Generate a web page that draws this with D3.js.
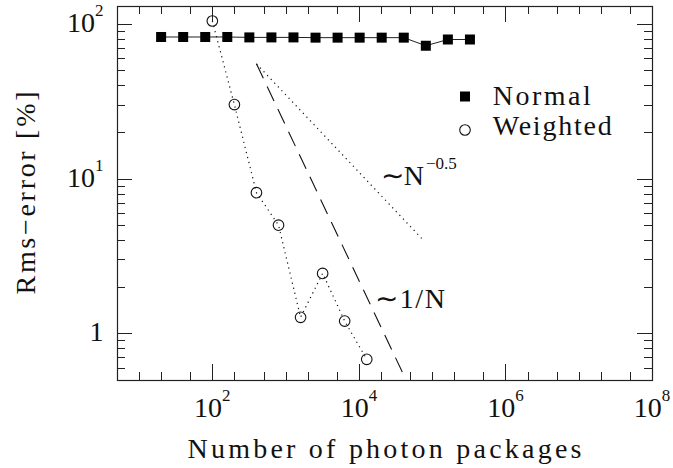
<!DOCTYPE html>
<html>
<head>
<meta charset="utf-8">
<script src="https://cdn.jsdelivr.net/npm/d3@7/dist/d3.min.js"></script>
<style>
  html, body { margin: 0; padding: 0; background: #fff; }
  svg { display: block; }
  text { font-family: "Liberation Serif", "Times New Roman", serif; fill: #111; }
</style>
</head>
<body>
<svg id="chart" width="673" height="468"></svg>
<script>
// ---- data ----
const normalN   = [20, 40, 80, 160, 320, 640, 1280, 2560, 5120, 10240, 20480, 40960, 81920, 163840, 327680];
const normalErr = [82, 82, 82, 82, 81.5, 81.5, 81.5, 81.2, 81.2, 81.2, 81.2, 81.2, 72, 79, 79];
const weightedN   = [100, 200, 400, 800, 1600, 3200, 6400, 12800];
const weightedErr = [104, 30, 8.1, 5.0, 1.27, 2.44, 1.2, 0.68];
const invN_N     = [400, 40000];
const invN_err   = [55, 0.55];
const invSqrt_N   = [400, 72000];
const invSqrt_err = [55, 4.1];
const xTickLabels = [{v: 1e2, base: "10", exp: "2"}, {v: 1e4, base: "10", exp: "4"}, {v: 1e6, base: "10", exp: "6"}, {v: 1e8, base: "10", exp: "8"}];
const yTickLabels = [{v: 1, base: "1", exp: ""}, {v: 10, base: "10", exp: "1"}, {v: 100, base: "10", exp: "2"}];
const legendLabels = ["Normal", "Weighted"];
const xTitle = "Number of photon packages";
const yTitle = "Rms\u2212error [%]";

// ---- layout ----
const L = 117, R = 652, T = 6, B = 380;
const svg = d3.select("#chart");
const x = d3.scaleLog().domain([5, 1e8]).range([L, R]);
const y = d3.scaleLog().domain([0.5, 130]).range([B, T]);

// ticks
const xMajor = [1e2, 1e4, 1e6, 1e8];
const xMinor = [];
for (let e = 0; e <= 7; e++) [1, 2, 5].forEach(m => {
  const v = m * Math.pow(10, e);
  if (v >= 5 && v <= 1e8 && !xMajor.includes(v)) xMinor.push(v);
});
const yMajor = [1, 10, 100];
const yMinor = [];
for (let e = -1; e <= 2; e++) for (let m = 1; m <= 9; m++) {
  const v = +(m * Math.pow(10, e)).toPrecision(6);
  if (v >= 0.5 && v <= 130 && !yMajor.includes(v)) yMinor.push(v);
}
const g = svg.append("g").attr("stroke", "#222").attr("stroke-width", 1).attr("shape-rendering", "crispEdges");
const xt = xMajor.map(v => ({v, len: 16})).concat(xMinor.map(v => ({v, len: 8})));
g.selectAll(".xb").data(xt).join("line")
  .attr("x1", d => Math.round(x(d.v)) + 0.5).attr("x2", d => Math.round(x(d.v)) + 0.5)
  .attr("y1", B).attr("y2", d => B - d.len);
g.selectAll(".xt").data(xt).join("line")
  .attr("x1", d => Math.round(x(d.v)) + 0.5).attr("x2", d => Math.round(x(d.v)) + 0.5)
  .attr("y1", T).attr("y2", d => T + d.len);
const yt = yMajor.map(v => ({v, len: 15})).concat(yMinor.map(v => ({v, len: 8})));
g.selectAll(".yl").data(yt).join("line")
  .attr("y1", d => Math.round(y(d.v)) + 0.5).attr("y2", d => Math.round(y(d.v)) + 0.5)
  .attr("x1", L).attr("x2", d => L + d.len);
g.selectAll(".yr").data(yt).join("line")
  .attr("y1", d => Math.round(y(d.v)) + 0.5).attr("y2", d => Math.round(y(d.v)) + 0.5)
  .attr("x1", R).attr("x2", d => R - d.len);
// frame
svg.append("rect").attr("x", L + 0.5).attr("y", T + 0.5).attr("width", R - L).attr("height", B - T)
  .attr("fill", "none").attr("stroke", "#222").attr("stroke-width", 1.2);

// tick labels
const xl = svg.selectAll(".xlab").data(xTickLabels).join("text")
  .attr("x", d => x(d.v)).attr("y", 417).attr("text-anchor", "middle").attr("font-size", 28);
xl.append("tspan").text(d => d.base);
xl.append("tspan").attr("font-size", 17).attr("dy", -16).text(d => d.exp);

const yl = svg.selectAll(".ylab").data(yTickLabels).join("text")
  .attr("x", 103.5).attr("y", d => y(d.v) + 8).attr("text-anchor", "end").attr("font-size", 28);
yl.append("tspan").text(d => d.base);
yl.append("tspan").attr("font-size", 17).attr("dy", -16).text(d => d.exp);

// axis titles
svg.append("text").attr("x", (L + R) / 2).attr("y", 458).attr("text-anchor", "middle")
  .attr("font-size", 28).attr("textLength", 394).attr("lengthAdjust", "spacing").text(xTitle);
svg.append("text").attr("transform", `translate(35,${(T + B) / 2}) rotate(-90)`).attr("text-anchor", "middle")
  .attr("font-size", 28).attr("textLength", 203).attr("lengthAdjust", "spacing").text(yTitle);

// reference slopes
const line = d3.line().x(d => x(d[0])).y(d => y(d[1]));
svg.append("path").datum(invN_N.map((n, i) => [n, invN_err[i]]))
  .attr("d", line).attr("fill", "none").attr("stroke", "#111").attr("stroke-width", 1.1)
  .attr("stroke-dasharray", "16,9");
svg.append("path").datum(invSqrt_N.map((n, i) => [n, invSqrt_err[i]]))
  .attr("d", line).attr("fill", "none").attr("stroke", "#111").attr("stroke-width", 1.2)
  .attr("stroke-dasharray", "1.2,4");

// Normal series
const nData = normalN.map((n, i) => [n, normalErr[i]]);
svg.append("path").datum(nData).attr("d", line).attr("fill", "none").attr("stroke", "#222").attr("stroke-width", 1);
svg.selectAll(".sq").data(nData).join("rect")
  .attr("x", d => x(d[0]) - 5).attr("y", d => y(d[1]) - 5).attr("width", 10).attr("height", 10).attr("fill", "#000");

// Weighted series
const wData = weightedN.map((n, i) => [n, weightedErr[i]]);
svg.append("path").datum(wData).attr("d", line).attr("fill", "none").attr("stroke", "#111")
  .attr("stroke-width", 1.2).attr("stroke-dasharray", "1.2,4");
svg.selectAll(".ci").data(wData).join("circle")
  .attr("cx", d => x(d[0])).attr("cy", d => y(d[1])).attr("r", 5.3)
  .attr("fill", "none").attr("stroke", "#111").attr("stroke-width", 1.1);

// annotations
const a1 = svg.append("text").attr("x", 380.7).attr("y", 185).attr("font-size", 28);
a1.append("tspan").text("\u223CN");
a1.append("tspan").attr("font-size", 17).attr("dy", -16).attr("dx", 2).text("\u22120.5");
svg.append("text").attr("x", 375).attr("y", 308).attr("font-size", 28)
  .attr("textLength", 70).attr("lengthAdjust", "spacing").text("\u223C1/N");

// legend
svg.append("rect").attr("x", 460).attr("y", 91.5).attr("width", 10).attr("height", 10).attr("fill", "#000");
svg.append("circle").attr("cx", 465).attr("cy", 130).attr("r", 5.3).attr("fill", "none").attr("stroke", "#111").attr("stroke-width", 1.1);
svg.append("text").attr("x", 492.7).attr("y", 105).attr("font-size", 28)
  .attr("textLength", 98).attr("lengthAdjust", "spacing").text(legendLabels[0]);
svg.append("text").attr("x", 492.7).attr("y", 135).attr("font-size", 28)
  .attr("textLength", 119).attr("lengthAdjust", "spacing").text(legendLabels[1]);
</script>
</body>
</html>
